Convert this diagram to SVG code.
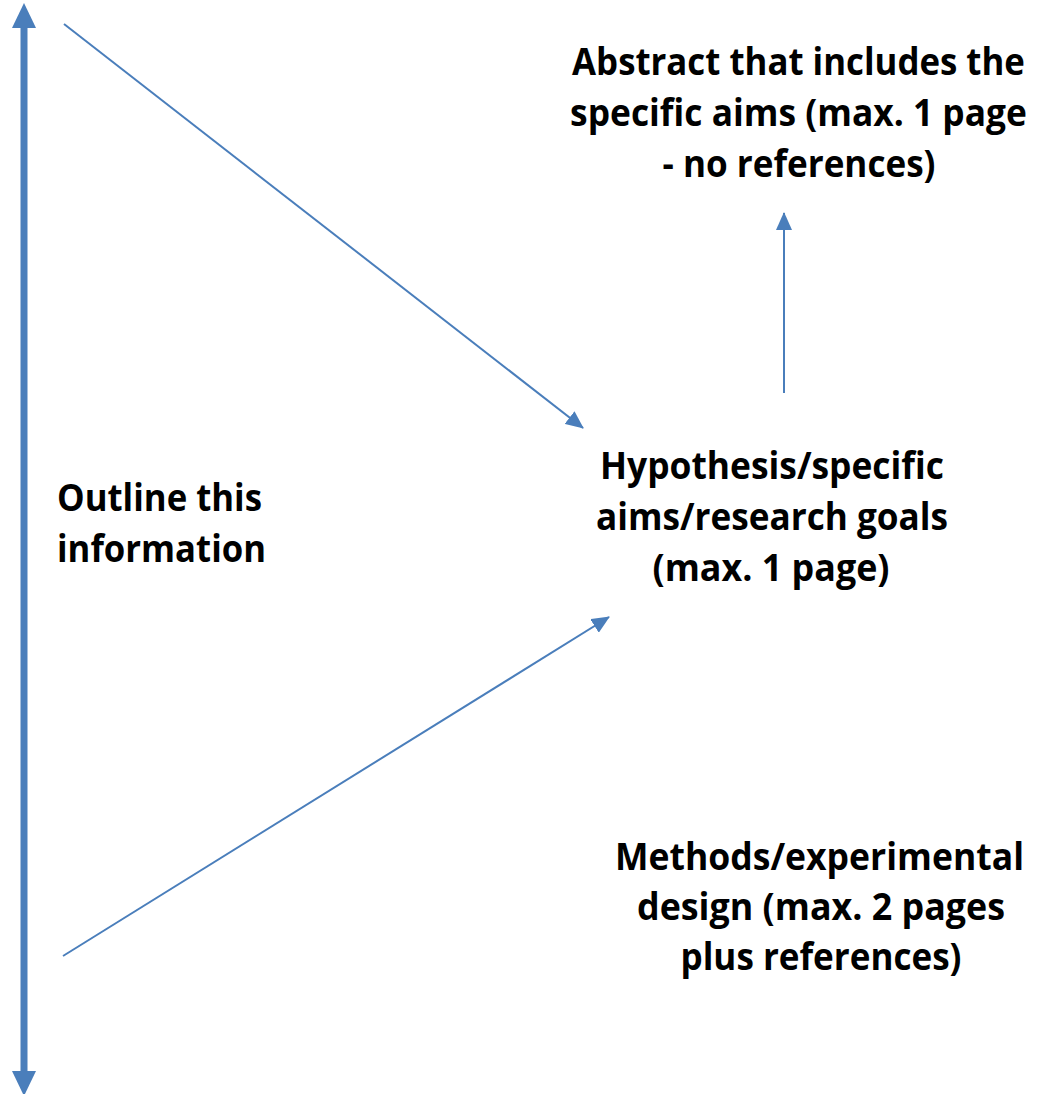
<svg xmlns="http://www.w3.org/2000/svg" width="1042" height="1094" viewBox="0 0 1042 1094">
  <style>
    .lbl { font-family: "Open Sans", "Noto Sans", "Liberation Sans", sans-serif; font-weight: bold; font-size: 37px; fill: #000; }
    .c { text-anchor: middle; }
    .thin { stroke: #4a7ebb; stroke-width: 2; fill: none; }
    .thick { stroke: #4a7ebb; stroke-width: 7; fill: none; }
  </style>
  <defs>
    <marker id="head" markerUnits="userSpaceOnUse" markerWidth="18" markerHeight="16" viewBox="0 0 18 16" refX="17" refY="8" orient="auto">
      <path d="M0,0 L18,8 L0,16 z" fill="#4a7ebb"/>
    </marker>
    <marker id="bighead" markerUnits="userSpaceOnUse" markerWidth="25" markerHeight="24" viewBox="0 0 25 24" refX="0" refY="12" orient="auto-start-reverse">
      <path d="M0,0 L25,12 L0,24 z" fill="#4a7ebb"/>
    </marker>
  </defs>
  <rect width="1042" height="1094" fill="#fff"/>

  <g id="connectors">
    <path class="thick" d="M24,1071 L24,28" marker-start="url(#bighead)" marker-end="url(#bighead)"/>
    <path class="thin" d="M64,24 L583,428" marker-end="url(#head)"/>
    <path class="thin" d="M63,956 L609,617" marker-end="url(#head)"/>
    <path class="thin" d="M784,393 L784,213" marker-end="url(#head)"/>
  </g>

  <g id="abstract">
    <text class="lbl c" transform="translate(798.5,75) scale(0.8,1)" x="0" y="0" textLength="566" lengthAdjust="spacingAndGlyphs">Abstract that includes the</text>
    <text class="lbl c" transform="translate(798.5,126) scale(0.8,1)" x="0" y="0" textLength="571" lengthAdjust="spacingAndGlyphs">specific aims (max. 1 page</text>
    <text class="lbl c" x="799" y="177" textLength="273" lengthAdjust="spacingAndGlyphs">- no references)</text>
  </g>

  <g id="hypothesis">
    <text class="lbl c" x="772" y="479" textLength="344" lengthAdjust="spacingAndGlyphs">Hypothesis/specific</text>
    <text class="lbl c" x="772" y="530" textLength="352" lengthAdjust="spacingAndGlyphs">aims/research goals</text>
    <text class="lbl c" x="771" y="581" textLength="237" lengthAdjust="spacingAndGlyphs">(max. 1 page)</text>
  </g>

  <g id="outline">
    <text class="lbl" x="57" y="511" textLength="205" lengthAdjust="spacingAndGlyphs">Outline this</text>
    <text class="lbl" x="57" y="562" textLength="209" lengthAdjust="spacingAndGlyphs">information</text>
  </g>

  <g id="methods">
    <text class="lbl c" x="819.5" y="870" textLength="409" lengthAdjust="spacingAndGlyphs">Methods/experimental</text>
    <text class="lbl c" x="821" y="920" textLength="368" lengthAdjust="spacingAndGlyphs">design (max. 2 pages</text>
    <text class="lbl c" x="821" y="970" textLength="281" lengthAdjust="spacingAndGlyphs">plus references)</text>
  </g>
</svg>
